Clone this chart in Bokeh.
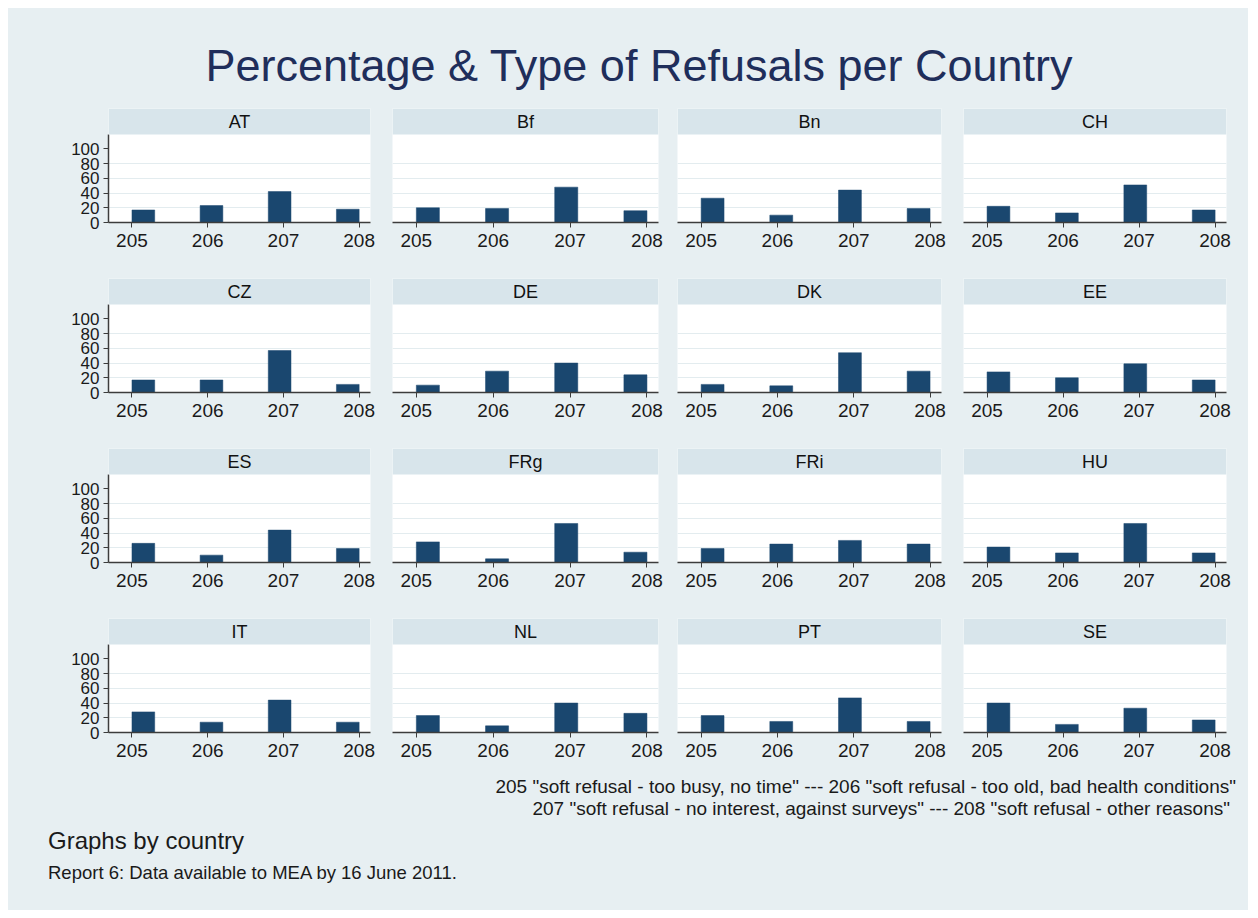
from bokeh.plotting import figure
from bokeh.layouts import row, column
from bokeh.models import FixedTicker, BoxAnnotation, Label, Range1d, Div, ColumnDataSource
from bokeh.embed import file_html
from bokeh.resources import INLINE

# ---------------- data ----------------
countries = ["AT", "Bf", "Bn", "CH", "CZ", "DE", "DK", "EE",
             "ES", "FRg", "FRi", "HU", "IT", "NL", "PT", "SE"]
codes = [205, 206, 207, 208]
pct_205 = [17, 20, 33, 22, 17, 10, 11, 28, 26, 28, 19, 21, 28, 23, 23, 40]
pct_206 = [23, 19, 10, 13, 17, 29, 9, 20, 10, 5, 25, 13, 14, 9, 15, 11]
pct_207 = [42, 48, 44, 51, 57, 40, 54, 39, 44, 53, 30, 53, 44, 40, 47, 33]
pct_208 = [18, 16, 19, 17, 11, 24, 29, 17, 19, 14, 25, 13, 14, 26, 15, 17]
y_ticks = [0, 20, 40, 60, 80, 100]
grid_ticks = [20, 40, 60, 80]

title_text = "Percentage &amp; Type of Refusals per Country"
note_line1 = '205 "soft refusal - too busy, no time" --- 206 "soft refusal - too old, bad health conditions"'
note_line2 = '207 "soft refusal - no interest, against surveys" --- 208 "soft refusal - other reasons"'
by_text = "Graphs by country"
report_text = "Report 6: Data available to MEA by 16 June 2011."

# ---------------- style ----------------
FONT = "Liberation Sans"
BG = "#e7eff2"
HEADER = "#d8e5eb"
BAR = "#1a476f"
GRID = "#e3ecef"
AXIS = "#3c3c3c"
TXT = "#1a1a1a"
TITLE_COLOR = "#1f2e5b"

COL_W = [373, 286, 285, 296]
COL_LB = [100, 11, 10, 11]
COL_RB = [11, 9, 11, 22]
ROW_H = [170, 170, 170, 152]
FRAME_H = 114
HEADER_H = 26
Y_PLOT_MAX = 119.5
Y_END = Y_PLOT_MAX * FRAME_H / (FRAME_H - HEADER_H)
X_START, X_END = 204.69, 208.15
BAR_SHIFT = 0.15
BAR_STEP = 0.9
BAR_W = 0.30

series = [pct_205, pct_206, pct_207, pct_208]

rows = []
for r in range(4):
    figs = []
    for c in range(4):
        k = r * 4 + c
        H = ROW_H[r]
        p = figure(width=COL_W[c], height=H,
                   x_range=Range1d(X_START, X_END), y_range=Range1d(0, Y_END),
                   output_backend="svg", toolbar_location=None,
                   min_border_left=COL_LB[c], min_border_right=COL_RB[c],
                   min_border_top=0, min_border_bottom=H - FRAME_H,
                   y_axis_location="left" if c == 0 else None,
                   background_fill_color="white", border_fill_color=BG,
                   outline_line_color=None)
        vals = [s[k] for s in series]
        xs = [codes[0] + BAR_SHIFT + (cd - codes[0]) * BAR_STEP for cd in codes]
        src = ColumnDataSource(dict(x=xs, top=vals))
        p.vbar(x="x", top="top", bottom=0, width=BAR_W, source=src,
               fill_color=BAR, line_color=BAR, line_width=0.5)

        p.xgrid.grid_line_color = None
        p.ygrid.ticker = FixedTicker(ticks=grid_ticks)
        p.ygrid.grid_line_color = GRID
        p.ygrid.grid_line_width = 1.2

        xa = p.xaxis[0]
        xa.ticker = FixedTicker(ticks=codes)
        xa.major_label_text_font = FONT
        xa.major_label_text_font_size = "19px"
        xa.major_label_text_color = TXT
        xa.major_tick_out = 5
        xa.major_tick_in = 0
        xa.minor_tick_line_color = None
        xa.major_tick_line_color = AXIS
        xa.axis_line_color = AXIS
        xa.axis_line_width = 1.5
        xa.major_label_standoff = 6

        if c == 0:
            ya = p.yaxis[0]
            ya.ticker = FixedTicker(ticks=y_ticks)
            ya.bounds = (0, Y_PLOT_MAX)
            ya.major_label_text_font = FONT
            ya.major_label_text_font_size = "17px"
            ya.major_label_text_color = TXT
            ya.major_tick_out = 5
            ya.major_tick_in = 0
            ya.minor_tick_line_color = None
            ya.major_tick_line_color = AXIS
            ya.axis_line_color = AXIS
            ya.axis_line_width = 1.5
            ya.major_label_standoff = 4

        p.add_layout(BoxAnnotation(bottom=Y_PLOT_MAX, fill_color=HEADER, fill_alpha=1.0,
                                   line_color=None))
        p.add_layout(Label(x=(X_START + X_END) / 2, y=(Y_PLOT_MAX + Y_END) / 2,
                           text=countries[k], text_align="center", text_baseline="middle",
                           text_font=FONT, text_font_size="18px", text_color="#111111"))
        figs.append(p)
    rows.append(row(children=figs, spacing=0))

title_div = Div(
    text=('<div style="box-sizing:border-box; width:1240px; padding-left:22px; padding-top:36px; '
          'text-align:center; font-family:\'Liberation Sans\'; font-size:45px; line-height:44px; '
          'color:%s; white-space:nowrap;">%s</div>' % (TITLE_COLOR, title_text)),
    width=1240, height=100, margin=0, styles={"background-color": BG})

notes_html = (
    '<div style="box-sizing:border-box; width:1240px; font-family:\'Liberation Sans\'; color:%s;">'
    '<div style="margin-top:6px; height:22px; line-height:22px; font-size:19px; text-align:right; '
    'padding-right:12px; white-space:nowrap;">%s</div>'
    '<div style="height:22px; line-height:22px; font-size:19px; text-align:right; '
    'padding-right:18px; white-space:nowrap;">%s</div>'
    '<div style="margin-top:6px; height:30px; line-height:30px; font-size:24px; '
    'padding-left:40px; white-space:nowrap;">%s</div>'
    '<div style="margin-top:6px; height:22px; line-height:22px; font-size:18.5px; '
    'padding-left:40px; white-space:nowrap;">%s</div>'
    '</div>' % (TXT, note_line1.replace('"', '&quot;'), note_line2.replace('"', '&quot;'),
                by_text, report_text))
notes_div = Div(text=notes_html, width=1240, height=140, margin=0,
                styles={"background-color": BG})

layout = column(children=[title_div] + rows + [notes_div], spacing=0,
                margin=(8, 0, 0, 8), styles={"background-color": BG})

open("out.html", "w").write(file_html(layout, INLINE))
